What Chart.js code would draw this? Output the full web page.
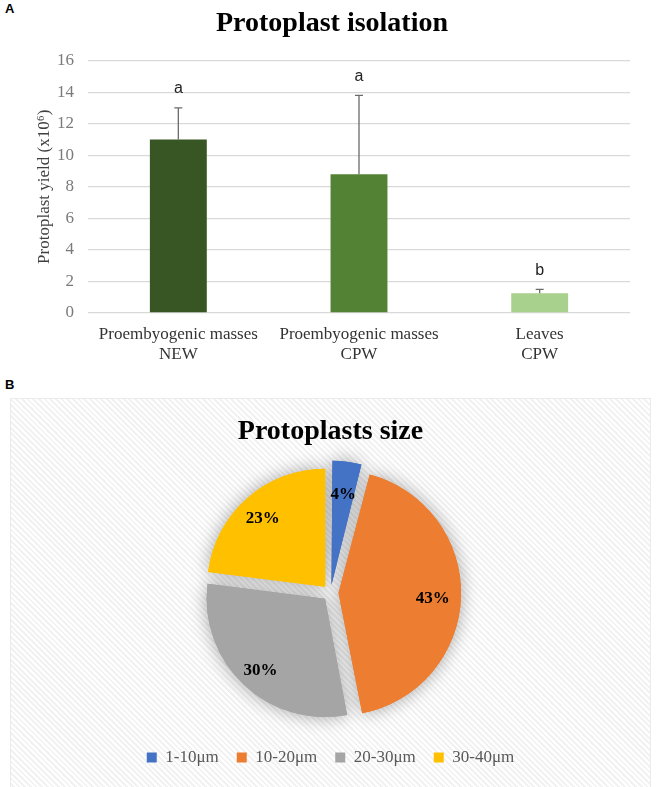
<!DOCTYPE html>
<html>
<head>
<meta charset="utf-8">
<script src="https://cdn.jsdelivr.net/npm/chart.js@4.4.1/dist/chart.umd.min.js"></script>
<style>
  body { margin:0; background:#fff; width:656px; height:787px; position:relative; overflow:hidden; }
  .tag { position:absolute; font-family:"Liberation Sans", Arial, sans-serif; font-weight:bold; font-size:13px; color:#000; }
  #boxA { position:absolute; left:0; top:0; width:656px; height:372px; }
  #boxB { position:absolute; left:10px; top:398px; width:639px; height:395px; border:1px solid #ebebeb;
          background:repeating-linear-gradient(45deg, #ffffff 0 2px, #f2f2f2 2px 4px); }
</style>
</head>
<body>
<div class="tag" style="left:5px;top:1px">A</div>
<div class="tag" style="left:5px;top:377px">B</div>
<div id="boxA"><canvas id="chartYield" width="656" height="372"></canvas></div>
<div id="boxB"><canvas id="chartSize" width="639" height="389"></canvas></div>

<script>
// --- panel A data
const groups = [["Proembyogenic masses", "NEW"], ["Proembyogenic masses", "CPW"], ["Leaves", "CPW"]];
const yieldMean = [11, 8.8, 1.25];
const yieldErr = [2, 5, 0.25];
const sigLetters = ["a", "a", "b"];
const yMin = 0, yMax = 16, yStep = 2;

// --- panel B data
const sizeLabels = ["1-10μm", "10-20μm", "20-30μm", "30-40μm"];
const sizeShare = [4, 43, 30, 23];

const SERIF = "'Times New Roman', 'Liberation Serif', serif";
const GREENS = ["#375623", "#548235", "#A9D18E"];
const SIZE_COLORS = ["#4472C4", "#ED7D31", "#A5A5A5", "#FFC000"];

Chart.defaults.devicePixelRatio = 1;
Chart.defaults.animation = false;

// error bars + significance letters
const errorBars = {
  id: "errorBars",
  afterDatasetsDraw(chart) {
    const ctx = chart.ctx, y = chart.scales.y;
    chart.getDatasetMeta(0).data.forEach((bar, i) => {
      const top = y.getPixelForValue(yieldMean[i] + yieldErr[i]);
      ctx.save();
      ctx.strokeStyle = "#6b6b6b";
      ctx.lineWidth = 1.3;
      ctx.beginPath();
      ctx.moveTo(bar.x, bar.y);
      ctx.lineTo(bar.x, top);
      ctx.moveTo(bar.x - 4, top);
      ctx.lineTo(bar.x + 4, top);
      ctx.stroke();
      ctx.fillStyle = "#222";
      ctx.font = "16px 'Liberation Sans', Arial, sans-serif";
      ctx.textAlign = "center";
      ctx.textBaseline = "middle";
      ctx.fillText(sigLetters[i], bar.x, top - 19);
      ctx.restore();
    });
  }
};

new Chart(document.getElementById("chartYield"), {
  type: "bar",
  data: {
    labels: groups,
    datasets: [{
      data: yieldMean,
      backgroundColor: GREENS,
      borderWidth: 0,
      barPercentage: 0.315,
      categoryPercentage: 1
    }]
  },
  options: {
    responsive: false,
    layout: { padding: { left: 34, right: 26, top: 0, bottom: 0 } },
    plugins: {
      legend: { display: false },
      tooltip: { enabled: false },
      title: {
        display: true,
        text: "Protoplast isolation",
        color: "#000",
        font: { family: SERIF, size: 28, weight: "bold" },
        padding: { top: 7, bottom: 20 }
      }
    },
    scales: {
      x: {
        grid: { display: false },
        border: { display: false },
        ticks: { color: "#333", font: { family: SERIF, size: 17 }, padding: 3 },
        afterFit(s) { s.height = 59; }
      },
      y: {
        min: yMin, max: yMax,
        ticks: { stepSize: yStep, color: "#7a7a7a", font: { family: SERIF, size: 17 }, padding: 14 },
        grid: { color: "#d9d9d9", lineWidth: 1.3, drawTicks: false },
        border: { display: false },
        title: { display: true, text: "Protoplast yield (x10⁶)", color: "#404040",
                 font: { family: SERIF, size: 17 }, padding: { top: 0, bottom: 4 } },
        afterFit(s) { s.width = 54; }
      }
    }
  },
  plugins: [errorBars]
});

// soft glow behind pie, then slice labels
const pieShadow = {
  id: "pieShadow",
  beforeDatasetsDraw(chart) {
    const ctx = chart.ctx;
    ctx.save();
    ctx.shadowColor = "rgba(0,0,0,0.35)";
    ctx.shadowBlur = 18;
    chart.getDatasetMeta(0).data.forEach(a => a.draw(ctx));
    ctx.restore();
  }
};
const sliceLabels = {
  id: "sliceLabels",
  afterDatasetsDraw(chart) {
    const ctx = chart.ctx;
    ctx.save();
    ctx.fillStyle = "#000";
    ctx.font = "bold 17px " + SERIF;
    ctx.textAlign = "center";
    ctx.textBaseline = "middle";
    chart.getDatasetMeta(0).data.forEach((arc, i) => {
      const p = arc.getProps(["x", "y", "startAngle", "endAngle", "outerRadius"], true);
      const mid = (p.startAngle + p.endAngle) / 2;
      const d = arc.options.offset / 4 + p.outerRadius * 0.8;
      ctx.fillText(sizeShare[i] + "%", p.x + Math.cos(mid) * d, p.y + 3 + Math.sin(mid) * d);
    });
    ctx.restore();
  }
};

new Chart(document.getElementById("chartSize"), {
  type: "pie",
  data: {
    labels: sizeLabels,
    datasets: [{
      data: sizeShare,
      backgroundColor: SIZE_COLORS,
      borderWidth: 0,
      offset: 32
    }]
  },
  options: {
    responsive: false,
    radius: 118,
    layout: { padding: { top: 0, bottom: 12 } },
    plugins: {
      tooltip: { enabled: false },
      title: {
        display: true,
        text: "Protoplasts size",
        color: "#000",
        font: { family: SERIF, size: 28, weight: "bold" },
        padding: { top: 16, bottom: 6 }
      },
      legend: {
        position: "bottom",
        labels: {
          boxWidth: 10, boxHeight: 10, padding: 18,
          color: "#595959",
          font: { family: SERIF, size: 17 }
        }
      }
    }
  },
  plugins: [pieShadow, sliceLabels]
});
</script>
</body>
</html>
